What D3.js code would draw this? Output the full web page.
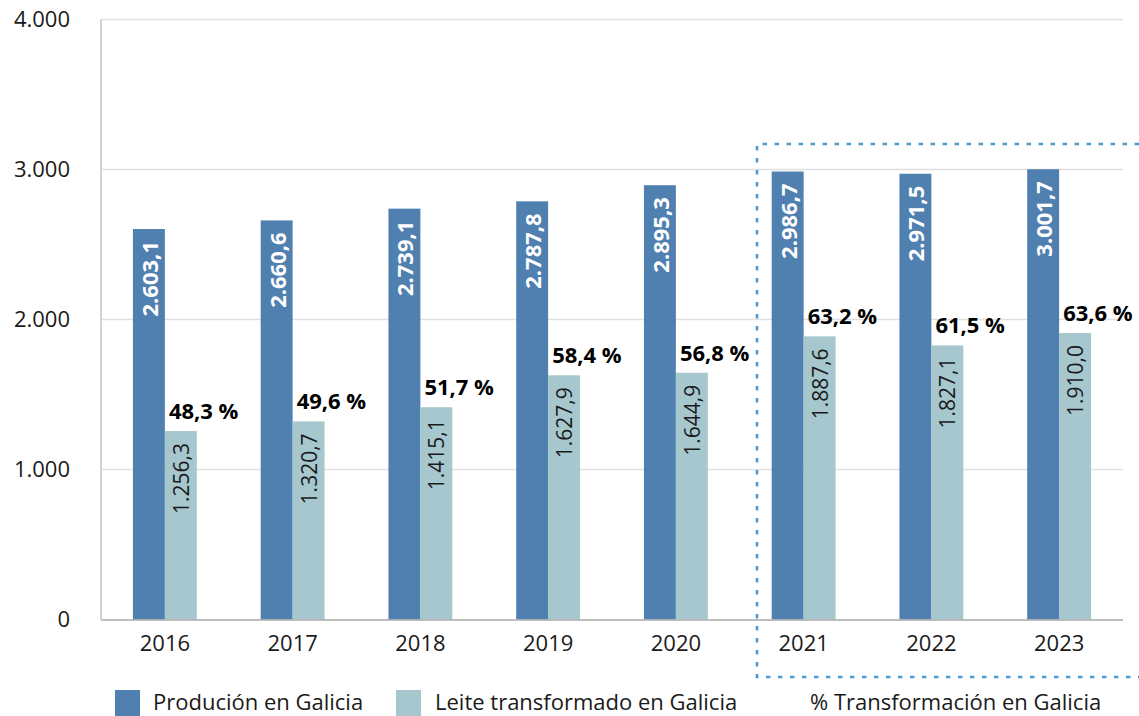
<!DOCTYPE html>
<html>
<head>
<meta charset="utf-8">
<script src="https://cdn.jsdelivr.net/npm/d3@7"></script>
<style>
  html, body { margin: 0; padding: 0; background: #fff; }
  svg { display: block; font-family: "Open Sans", "Noto Sans", sans-serif; }
</style>
</head>
<body>
<svg id="chart" width="1139" height="716"></svg>
<script>
// Milk production and processing in Galicia (million litres)
const years = ["2016", "2017", "2018", "2019", "2020", "2021", "2022", "2023"];
const production = [2603.1, 2660.6, 2739.1, 2787.8, 2895.3, 2986.7, 2971.5, 3001.7];
const processed = [1256.3, 1320.7, 1415.1, 1627.9, 1644.9, 1887.6, 1827.1, 1910.0];
const processedPct = [48.3, 49.6, 51.7, 58.4, 56.8, 63.2, 61.5, 63.6];
const yTicks = [0, 1000, 2000, 3000, 4000];
const highlightFrom = "2021";
const legendLabels = ["Produción en Galicia", "Leite transformado en Galicia", "% Transformación en Galicia"];

const colProd = "#5080b0";
const colProc = "#a6c7cd";
const colBox = "#4c9bd0";

const svg = d3.select("#chart");
const plotLeft = 101, plotRight = 1123, plotBottom = 619.5, plotTop = 19.5;

const x = d3.scaleBand().domain(years).range([plotLeft, plotRight]).paddingInner(0.5).paddingOuter(0.25);
const y = d3.scaleLinear().domain([0, 4000]).range([plotBottom, plotTop]);

const fmt = (v, d) => {
  const s = v.toFixed(d).split(".");
  const intPart = s[0].replace(/\B(?=(\d{3})+(?!\d))/g, ".");
  return d > 0 ? intPart + "," + s[1] : intPart;
};

// horizontal gridlines
svg.append("g")
  .selectAll("line")
  .data(yTicks.filter(t => t > 0))
  .join("line")
  .attr("x1", plotLeft).attr("x2", plotRight)
  .attr("y1", d => y(d)).attr("y2", d => y(d))
  .attr("stroke", "#e0e0e0").attr("stroke-width", 1.5);

// vertical axis line
svg.append("line")
  .attr("x1", plotLeft).attr("x2", plotLeft)
  .attr("y1", y(4000)).attr("y2", plotBottom)
  .attr("stroke", "#d2d2d2").attr("stroke-width", 2);

// y axis labels
const yAxis = d3.axisLeft(y).tickValues(yTicks).tickSize(0).tickPadding(31)
  .tickFormat(d => fmt(d, 0));
const gy = svg.append("g").attr("transform", `translate(${plotLeft},0)`).call(yAxis);
gy.select(".domain").remove();
gy.selectAll("text").attr("font-size", 22).attr("fill", "#1a1a1a")
  .attr("font-family", "'Open Sans', 'Noto Sans', sans-serif");

const half = x.bandwidth() / 2;

// production bars
svg.append("g").selectAll("rect")
  .data(years)
  .join("rect")
  .attr("x", d => x(d))
  .attr("y", (d, i) => y(production[i]))
  .attr("width", half)
  .attr("height", (d, i) => plotBottom - y(production[i]))
  .attr("fill", colProd);

// processed bars
svg.append("g").selectAll("rect")
  .data(years)
  .join("rect")
  .attr("x", d => x(d) + half)
  .attr("y", (d, i) => y(processed[i]))
  .attr("width", half)
  .attr("height", (d, i) => plotBottom - y(processed[i]))
  .attr("fill", colProc);

// baseline
svg.append("line")
  .attr("x1", plotLeft).attr("x2", plotRight)
  .attr("y1", plotBottom + 0.5).attr("y2", plotBottom + 0.5)
  .attr("stroke", "#a8a8a8").attr("stroke-width", 1.5);

// x axis labels
const xAxis = d3.axisBottom(x).tickSize(0).tickPadding(16);
const gx = svg.append("g").attr("transform", `translate(0,${plotBottom})`).call(xAxis);
gx.select(".domain").remove();
gx.selectAll("text").attr("font-size", 22).attr("fill", "#1a1a1a")
  .attr("font-family", "'Open Sans', 'Noto Sans', sans-serif");

// production value labels (vertical, white)
svg.append("g").selectAll("text")
  .data(years)
  .join("text")
  .attr("transform", (d, i) => `translate(${x(d) + half / 2},${y(production[i]) + 12}) rotate(-90)`)
  .attr("text-anchor", "end")
  .attr("dominant-baseline", "central")
  .attr("font-size", 22).attr("font-weight", "bold").attr("fill", "#fff")
  .text((d, i) => fmt(production[i], 1));

// processed value labels (vertical, dark)
svg.append("g").selectAll("text")
  .data(years)
  .join("text")
  .attr("transform", (d, i) => `translate(${x(d) + half * 1.5},${y(processed[i]) + 12}) rotate(-90)`)
  .attr("text-anchor", "end")
  .attr("dominant-baseline", "central")
  .attr("font-size", 21).attr("fill", "#1a1a1a")
  .text((d, i) => fmt(processed[i], 1));

// share of production processed
svg.append("g").selectAll("text")
  .data(years)
  .join("text")
  .attr("x", d => x(d) + half + 4)
  .attr("y", (d, i) => y(processed[i]) - 12)
  .attr("font-size", 22).attr("font-weight", "bold").attr("fill", "#000")
  .text((d, i) => fmt(processedPct[i], 1) + " %");

// dotted frame around the latest years
const bx = x(highlightFrom) - 0.115 * x.step();
const boxTop = 144, boxBottom = 677;
const box = svg.append("g")
  .attr("fill", "none").attr("stroke", colBox).attr("stroke-width", 2.6)
  .attr("stroke-dasharray", "4.5,7.5");
box.append("path").attr("d", `M1139,${boxTop}H${bx}V${boxBottom}H1139`);

// legend
const legend = svg.append("g").attr("font-size", 22).attr("fill", "#1a1a1a");
const items = [
  { label: legendLabels[0], color: colProd, sx: 115, tx: 153 },
  { label: legendLabels[1], color: colProc, sx: 396, tx: 435 },
  { label: legendLabels[2], color: null, sx: null, tx: 810 }
];
items.forEach(it => {
  if (it.color) {
    legend.append("rect").attr("x", it.sx).attr("y", 690).attr("width", 25).attr("height", 26).attr("fill", it.color);
  }
  legend.append("text").attr("x", it.tx).attr("y", 709.5).text(it.label);
});
</script>
</body>
</html>
